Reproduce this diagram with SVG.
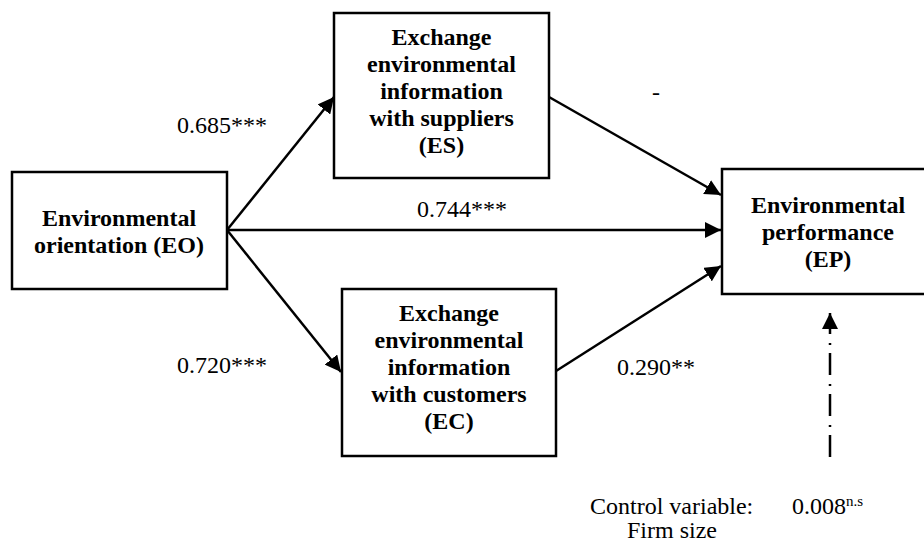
<svg xmlns="http://www.w3.org/2000/svg" width="924" height="544" viewBox="0 0 924 544">
  <style>
    .box { fill: #ffffff; stroke: #000000; stroke-width: 2.5; }
    .name { font-family: "Liberation Serif", "Times New Roman", serif; font-size: 24px; font-weight: bold; fill: #000000; text-anchor: middle; }
    .coef { font-family: "Liberation Serif", "Times New Roman", serif; font-size: 24px; fill: #000000; }
    .sup { font-size: 15px; }
    .link { fill: none; stroke: #000000; stroke-width: 2.5; marker-end: url(#head); }
    .control { fill: none; stroke: #000000; stroke-width: 2.5; stroke-dasharray: 22 8 2 9; marker-end: url(#head); }
  </style>
  <defs>
    <marker id="head" markerUnits="userSpaceOnUse" markerWidth="18" markerHeight="16" refX="16" refY="8" orient="auto">
      <path d="M0,0 L16,8 L0,16 Z" fill="#000000"/>
    </marker>
  </defs>
  <rect width="924" height="544" fill="#ffffff"/>

  <!-- Paths between constructs -->
  <g id="connectors">
    <line class="link" x1="227" y1="230" x2="334" y2="97"/>
    <line class="link" x1="227" y1="230" x2="721" y2="230"/>
    <line class="link" x1="227" y1="230" x2="341" y2="372"/>
    <line class="link" x1="549" y1="97" x2="721" y2="195"/>
    <line class="link" x1="556" y1="371" x2="721" y2="266"/>
    <line class="control" x1="830" y1="457" x2="830" y2="313"/>
  </g>

  <g id="EO">
    <rect class="box" x="12" y="172" width="215" height="117"/>
    <text class="name" x="119" y="226">Environmental</text>
    <text class="name" x="119" y="253">orientation (EO)</text>
  </g>

  <g id="ES">
    <rect class="box" x="334" y="13" width="215" height="165"/>
    <text class="name" x="441.5" y="45">Exchange</text>
    <text class="name" x="441.5" y="72">environmental</text>
    <text class="name" x="441.5" y="99">information</text>
    <text class="name" x="441.5" y="126">with suppliers</text>
    <text class="name" x="441.5" y="153">(ES)</text>
  </g>

  <g id="EC">
    <rect class="box" x="342" y="289" width="214" height="167"/>
    <text class="name" x="449" y="321">Exchange</text>
    <text class="name" x="449" y="348">environmental</text>
    <text class="name" x="449" y="375">information</text>
    <text class="name" x="449" y="402">with customers</text>
    <text class="name" x="449" y="429">(EC)</text>
  </g>

  <g id="EP">
    <rect class="box" x="722" y="169" width="214" height="125"/>
    <text class="name" x="828" y="213">Environmental</text>
    <text class="name" x="828" y="240">performance</text>
    <text class="name" x="828" y="267">(EP)</text>
  </g>

  <!-- Path coefficients -->
  <g id="coefficients">
    <text class="coef" x="177" y="133">0.685***</text>
    <text class="coef" x="417" y="217">0.744***</text>
    <text class="coef" x="177" y="373">0.720***</text>
    <text class="coef" x="652" y="100">-</text>
    <text class="coef" x="617" y="375">0.290**</text>
  </g>

  <g id="control">
    <text class="coef" x="590" y="514">Control variable:</text>
    <text class="coef" x="792" y="514">0.008<tspan class="sup" dy="-8">n.s</tspan></text>
    <text class="coef" x="627" y="538">Firm size</text>
  </g>
</svg>
